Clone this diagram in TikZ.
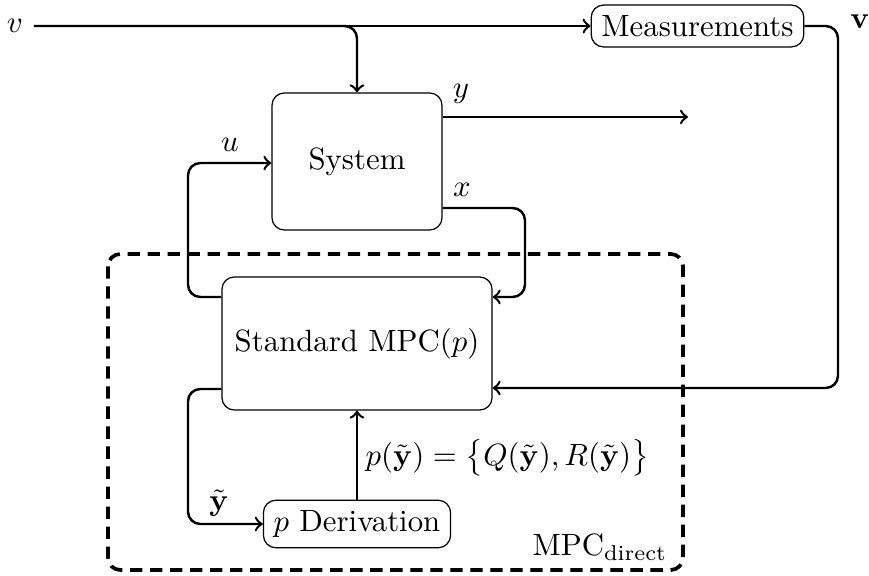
\documentclass[tikz,border=0pt]{standalone}
\usepackage{amsmath}
\usetikzlibrary{calc}
\tikzset{
  blk/.style={draw, thin, rounded corners=4pt, inner sep=3.33pt},
  conn/.style={thick, rounded corners=4pt},
  arr/.style={conn, ->},
  dashbox/.style={very thick, dash pattern=on 4pt off 2.5pt, rounded corners=4pt},
  lbl/.style={inner sep=0pt}
}
\begin{document}
\begin{tikzpicture}[x=0.3247pt, y=-0.3247pt]
\useasboundingbox (0,0) rectangle (869,576);

% dashed frame
\draw[dashbox] (108,254) rectangle (683,570);

% blocks
\node[blk, minimum width=55.2pt, minimum height=44.5pt] (sys) at (357,161.5) {System};
\node[blk, minimum width=87.7pt, minimum height=43.2pt] (mpc) at (357,343.5) {Standard MPC($p$)};
\node[blk] (meas) at (697.5,26) {Measurements};
\node[blk] (pd) at (357,524) {$p$ Derivation};

\node (v) at (15,26) {$v$};
\node[lbl] (vb) at (860,22) {$\mathbf{v}$};
\node[lbl] (ylab) at (461,94) {$y$};
\node[lbl] (xlab) at (462,190) {$x$};
\node[lbl] (ulab) at (230,145) {$u$};
\node[lbl] (ytlab) at (219,503) {$\tilde{\mathbf{y}}$};
\node[lbl, anchor=west] (plab) at (365,458) {$p(\tilde{\mathbf{y}}) = \big\{Q(\tilde{\mathbf{y}}), R(\tilde{\mathbf{y}})\big\}$};
\node[lbl, anchor=base east] (mlab) at (668,556) {MPC$_{\text{direct}}$};

% coordinates
\coordinate (yout) at (688,117);
\coordinate (xr) at (525,208);
\coordinate (xb) at (525,297);
\coordinate (ua) at (188,297);
\coordinate (ub) at (188,163);
\coordinate (ta) at (188,389);
\coordinate (fb) at (838,388);

% connectors
\draw[arr] (v.east) -- (meas.west);
\draw[arr] (v.east) -| (sys.north);
\draw[arr] (meas.east) -| (fb) -- (fb -| mpc.east);
\draw[arr] (yout -| sys.east) -- (yout);
\draw[arr] (xr -| sys.east) -- (xr) -- (xb) -- (xb -| mpc.east);
\draw[arr] (ua -| mpc.west) -- (ua) -- (ub) -- (ub -| sys.west);
\draw[arr] (ta -| mpc.west) -- (ta) |- (pd.west);
\draw[arr] (pd.north) -- (mpc.south);
\end{tikzpicture}
\end{document}
